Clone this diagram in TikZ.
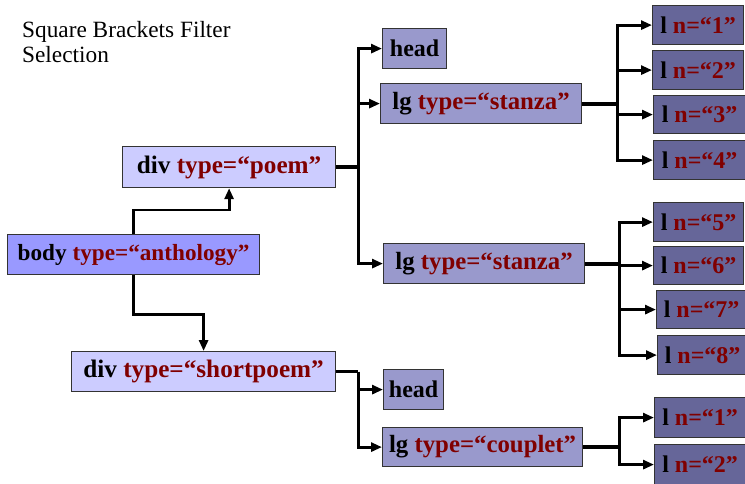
\documentclass[tikz,border=0pt]{standalone}
\usepackage{fontspec}
\setmainfont{Liberation Serif}
\usetikzlibrary{arrows.meta}
\definecolor{bodyc}{HTML}{9999FF}
\definecolor{divc}{HTML}{CCCCFF}
\definecolor{lgc}{HTML}{9999CC}
\definecolor{lc}{HTML}{666699}
\definecolor{attr}{HTML}{800000}
\tikzset{
  box/.style={draw=black!80, line width=1.2pt, anchor=north west, inner sep=0pt,
    font=\fontsize{25.2}{28}\selectfont\bfseries, text=black},
  bodybox/.style={box, fill=bodyc, font=\fontsize{23.2}{28}\selectfont\bfseries},
  divbox/.style={box, fill=divc},
  lgbox/.style={box, fill=lgc, font=\fontsize{24.8}{28}\selectfont\bfseries},
  headbox/.style={lgbox, font=\fontsize{24}{28}\selectfont\bfseries},
  lbox/.style={box, fill=lc, font=\fontsize{24}{28}\selectfont\bfseries},
  conn/.style={line width=2.8pt, line join=miter},
  arr/.style={conn, -{Triangle[length=11pt,width=9pt]}},
  stem/.style={line width=3.8pt},
  title/.style={anchor=base west, inner sep=0pt, font=\fontsize{23.3}{25}\selectfont}
}
\newcommand{\at}[1]{\textcolor{attr}{#1}}
\begin{document}
\begin{tikzpicture}[x=1pt,y=-1pt]
\useasboundingbox (0,0) rectangle (745,483);
\node[title] (t1) at (22,37) {Square Brackets Filter};
\node[title] (t2) at (22,62) {Selection};

\node[bodybox, minimum width=252pt, minimum height=40pt] (body) at (7,234) {body \at{type=“anthology”}};
\node[divbox, minimum width=213pt, minimum height=41pt] (dp) at (122,146) {div \at{type=“poem”}};
\node[divbox, minimum width=264pt, minimum height=40pt] (sp) at (71,351) {div \at{type=“shortpoem”}};

\node[headbox, minimum width=64pt, minimum height=40pt] (h1) at (382,28) {head};
\node[lgbox, minimum width=201pt, minimum height=40pt] (lg1) at (380,83) {lg \at{type=“stanza”}};
\node[lgbox, minimum width=201pt, minimum height=40pt] (lg2) at (383,243) {lg \at{type=“stanza”}};
\node[headbox, minimum width=60pt, minimum height=40pt] (h2) at (383,369) {head};
\node[lgbox, minimum width=200pt, minimum height=39pt] (lgc) at (382,427) {lg \at{type=“couplet”}};

\node[lbox, minimum width=91pt, minimum height=39pt] (l1) at (652,5) {l \at{n=“1”}};
\node[lbox, minimum width=91pt, minimum height=39pt] (l2) at (652,50) {l \at{n=“2”}};
\node[lbox, minimum width=92pt, minimum height=38pt] (l3) at (653,95) {l \at{n=“3”}};
\node[lbox, minimum width=92pt, minimum height=39pt] (l4) at (653,140) {l \at{n=“4”}};
\node[lbox, minimum width=90pt, minimum height=39pt] (l5) at (653,202) {l \at{n=“5”}};
\node[lbox, minimum width=90pt, minimum height=38pt] (l6) at (653,246) {l \at{n=“6”}};
\node[lbox, minimum width=90pt, minimum height=38pt] (l7) at (656,290) {l \at{n=“7”}};
\node[lbox, minimum width=90pt, minimum height=39pt] (l8) at (657,335) {l \at{n=“8”}};
\node[lbox, minimum width=91pt, minimum height=40pt] (m1) at (654,397) {l \at{n=“1”}};
\node[lbox, minimum width=91pt, minimum height=40pt] (m2) at (654,444) {l \at{n=“2”}};

% body to divs
\draw[arr] (body.north) -- ++(0,-24) -| (dp.south);
\draw[arr] (body.south) -- ++(0,39) -| (sp.north);

% div poem to children
\draw[conn, stem] (dp.east) -- ++(22,0) coordinate (tp);
\draw[arr] (tp) |- (h1.west);
\draw[arr] (tp) |- (lg1.west);
\draw[arr] (tp) |- (lg2.west);

% div shortpoem to children
\draw[conn] (sp.east) -- ++(22,0) coordinate (ts);
\draw[arr] (ts) |- (h2.west);
\draw[arr] (ts) |- (lgc.west);

% stanza 1
\draw[conn, stem] (lg1.east) -- ++(35,0) coordinate (ta);
\foreach \n in {l1,l2,l3,l4} \draw[arr] (ta) |- (\n.west);
% stanza 2
\draw[conn, stem] (lg2.east) -- ++(34,0) coordinate (tb);
\foreach \n in {l5,l6,l7,l8} \draw[arr] (tb) |- (\n.west);
% couplet
\draw[conn, stem] (lgc.east) -- ++(36,0) coordinate (tc);
\foreach \n in {m1,m2} \draw[arr] (tc) |- (\n.west);
\end{tikzpicture}
\end{document}
